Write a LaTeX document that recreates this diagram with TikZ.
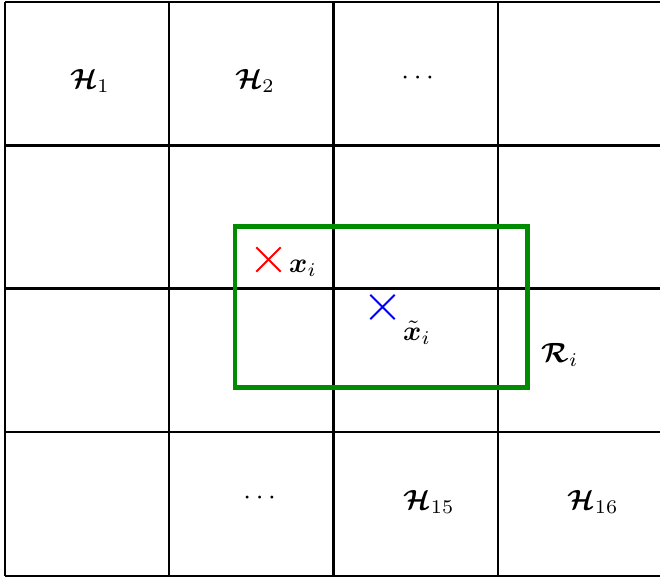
\documentclass[tikz,border=0pt]{standalone}
\usepackage{amsmath,amssymb,bm}
\usetikzlibrary{shapes.misc}
\definecolor{rgreen}{RGB}{0,140,0}
\begin{document}
\begin{tikzpicture}[x=0.36pt,y=-0.36pt,
  gridline/.style={line width=0.75pt,black},
  regionbox/.style={line width=1.45pt,draw=rgreen},
  crossmark/.style={cross out,line width=0.75pt,minimum size=8pt,inner sep=0pt},
  lbl/.style={inner sep=0pt}]
\useasboundingbox (0,0) rectangle (660,577);
\begin{scope}
\clip (0,0) rectangle (660,577);
\foreach \x in {5,169,333.5,498,662.5} \draw[gridline] (\x,2) -- (\x,576);
\foreach \y in {2,145.5,288.5,432,576} \draw[gridline] (5,\y) -- (662.5,\y);
\end{scope}
\node[lbl] (h1) at (90,81) {$\bm{\mathcal{H}}_1$};
\node[lbl] (h2) at (255,81) {$\bm{\mathcal{H}}_2$};
\node[lbl] (d1) at (420,78) {$\cdots$};
\node[lbl] (d2) at (262,498) {$\cdots$};
\node[lbl] (h15) at (429,502) {$\bm{\mathcal{H}}_{15}$};
\node[lbl] (h16) at (593,502) {$\bm{\mathcal{H}}_{16}$};
\draw[regionbox] (235,226.5) rectangle (527.5,387.5);
\node[crossmark,draw=red] (xi) at (268.5,259.5) {};
\node[crossmark,draw=blue] (xt) at (382.5,307) {};
\node[lbl] (lxi) at (303,268) {$\bm{x}_i$};
\node[lbl] (lxt) at (417,333) {$\tilde{\bm{x}}_i$};
\node[lbl] (lr) at (560,355) {$\bm{\mathcal{R}}_i$};
\end{tikzpicture}
\end{document}
